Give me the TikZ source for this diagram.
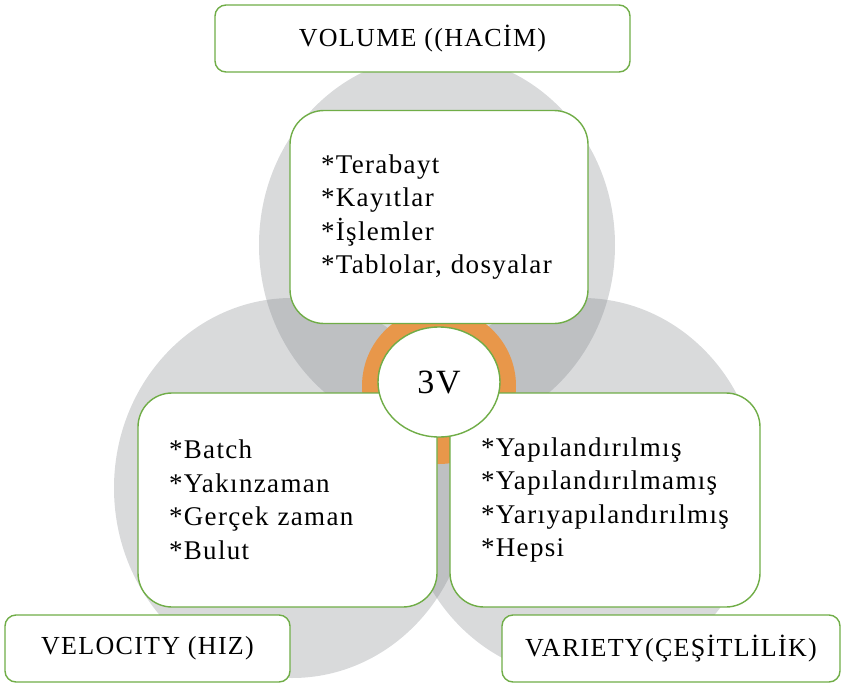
\documentclass[tikz,border=0pt]{standalone}
\usepackage{fontspec}
\setmainfont{Liberation Serif}
\newfontfamily\boxfont{Liberation Serif}[LetterSpace=5]
\usetikzlibrary{shapes.geometric}
\definecolor{frameg}{HTML}{70AD47}
\definecolor{venngray}{HTML}{808489}
\definecolor{huborange}{HTML}{E8974A}
\tikzset{
  labelbox/.style={
    rectangle,
    rounded corners=11pt,
    draw=frameg,
    fill=white,
    line width=1.4pt,
    align=center,
    minimum height=67pt,
    font=\boxfont\fontsize{26}{33}\selectfont
  },
  itembox/.style={
    rectangle,
    rounded corners=34pt,
    draw=frameg,
    fill=white,
    line width=1.4pt,
    align=left,
    inner xsep=31pt,
    inner ysep=0pt,
    font=\boxfont\fontsize{27}{33.5}\selectfont
  },
  hubnode/.style={
    ellipse,
    draw=frameg,
    fill=white,
    line width=1.4pt,
    minimum width=122pt,
    minimum height=110pt,
    font=\boxfont\fontsize{34}{40}\selectfont
  },
  venn/.style={fill=venngray, fill opacity=0.3}
}
\begin{document}
\begin{tikzpicture}[x=1pt, y=-1pt]
  \useasboundingbox (0,0) rectangle (844,686);

  % the three sets
  \fill[venn] (437,245) ellipse [x radius=178pt, y radius=190pt];
  \fill[venn] (292,488) ellipse [x radius=178pt, y radius=190pt];
  \fill[venn] (582,488) ellipse [x radius=178pt, y radius=190pt];
  \fill[huborange] (439,386) ellipse [x radius=77pt, y radius=78pt];

  \node[labelbox, minimum width=415pt] (volume) at (422.5,38.5) {VOLUME ((HACİM)};
  \node[itembox, text width=236pt, minimum height=213pt] (volitems) at (439,217)
    {*Terabayt\\{}*Kayıtlar\\{}*İşlemler\\{}*Tablolar,~dosyalar};
  \node[itembox, text width=237pt, minimum height=214pt] (velitems) at (287.5,500)
    {*Batch\\{}*Yakınzaman\\{}*Gerçek~zaman\\{}*Bulut};
  \node[itembox, text width=248pt, minimum height=214pt] (varitems) at (605,500)
    {*Yapılandırılmış\\{}*Yapılandırılmamış\\{}*Yarıyapılandırılmış\\{}*Hepsi};
  \node[labelbox, minimum width=285pt] (velocity) at (147.5,648.5) {VELOCITY (HIZ)};
  \node[labelbox, minimum width=338pt] (variety) at (671,648.5) {VARIETY(ÇEŞİTLİLİK)};

  \node[hubnode] (hub) at (439,382) {3V};
\end{tikzpicture}
\end{document}
